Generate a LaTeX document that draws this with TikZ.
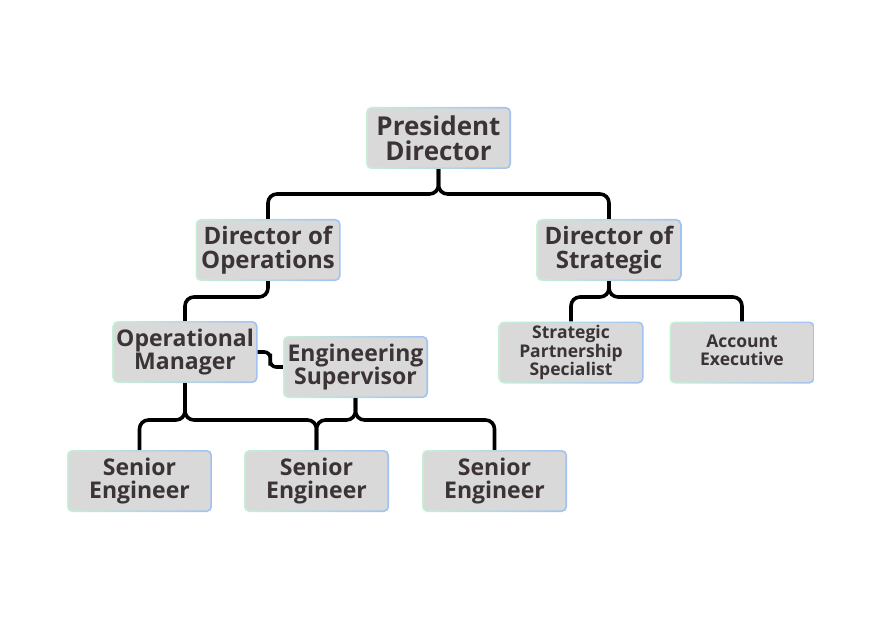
\documentclass[tikz,border=0pt]{standalone}
\usepackage{fontspec}
\setmainfont{Open Sans}
\usetikzlibrary{calc}
\definecolor{boxgray}{HTML}{D9D9D9}
\definecolor{bgreen}{HTML}{C6F0D6}
\definecolor{bblue}{HTML}{A2C2F2}
\definecolor{txt}{HTML}{3B3336}
\tikzset{
  box/.style={rounded corners=5pt, left color=bgreen, right color=bblue,
    minimum width=145pt, minimum height=62pt, inner sep=0pt,
    align=center, text=txt,
    path picture={\fill[boxgray, rounded corners=4pt]
      ([shift={(1.6pt,1.6pt)}]path picture bounding box.south west) rectangle
      ([shift={(-1.6pt,-1.6pt)}]path picture bounding box.north east);}},
  fA/.style={font=\fontsize{26}{25}\selectfont\bfseries},
  fB/.style={font=\fontsize{24}{24}\selectfont\bfseries},
  fC/.style={font=\fontsize{23}{23.5}\selectfont\bfseries},
  fD/.style={font=\fontsize{17.5}{17}\selectfont\bfseries},
  conn/.style={draw=black, line width=3.6pt, rounded corners=9pt}
}
\begin{document}
\begin{tikzpicture}[x=1pt,y=-1pt]
\useasboundingbox (0,0) rectangle (877,620);
\node[box,fA] (pd) at (438.5,138) {President\\Director};
\node[box,fB] (dop) at (268,250) {Director of\\Operations};
\node[box,fB] (dst) at (609,250) {Director of\\Strategic};
\node[box,fC] (om) at (185,352) {Operational\\Manager};
\node[box,fC] (es) at (355.5,367) {Engineering\\Supervisor};
\node[box,fD] (sps) at (571,352.5) {Strategic\\Partnership\\Specialist};
\node[box,fD] (ae) at (742,352.5) {\raisebox{2.5pt}{\begin{tabular}{@{}c@{}}Account\\Executive\end{tabular}}};
\node[box,fC] (se1) at (139.5,481) {Senior\\Engineer};
\node[box,fC] (se2) at (316.5,481) {Senior\\Engineer};
\node[box,fC] (se3) at (494.5,481) {Senior\\Engineer};
\coordinate (b1) at (0,194);
\coordinate (b2) at (0,297);
\coordinate (b3) at (0,420);
\coordinate (m) at ($(om.east)!0.5!(es.west)$);
\draw[conn] (pd.south) -- (pd.south |- b1) -| (dop.north);
\draw[conn] (pd.south) -- (pd.south |- b1) -| (dst.north);
\draw[conn] (dop.south) -- (dop.south |- b2) -| (om.north);
\draw[conn] (dst.south) -- (dst.south |- b2) -| (sps.north);
\draw[conn] (dst.south) -- (dst.south |- b2) -| (ae.north);
\draw[conn, rounded corners=6pt] (om.east) -| (m) |- (es.west);
\draw[conn] (om.south) -- (om.south |- b3) -| (se1.north);
\draw[conn] (om.south) -- (om.south |- b3) -| (se2.north);
\draw[conn] (es.south) -- (es.south |- b3) -| (se2.north);
\draw[conn] (es.south) -- (es.south |- b3) -| (se3.north);
\end{tikzpicture}
\end{document}
